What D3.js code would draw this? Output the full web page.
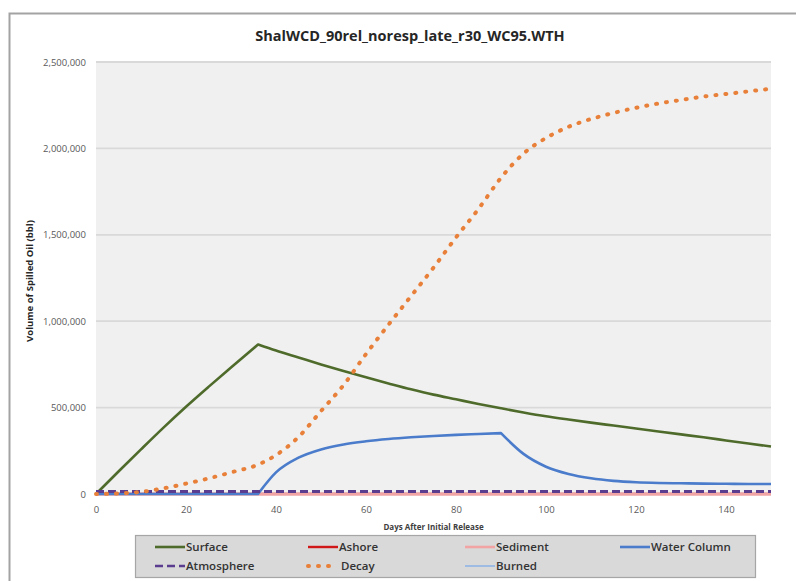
<!DOCTYPE html>
<html>
<head>
<meta charset="utf-8">
<script src="https://cdn.jsdelivr.net/npm/d3@7"></script>
<style>
  html, body { margin: 0; padding: 0; background: #ffffff; }
  svg { display: block; font-family: "Open Sans", "Liberation Sans", sans-serif; }
</style>
</head>
<body>
<svg id="chart" width="796" height="581"></svg>
<script>
// Simulation output: days after release and oil volume (bbl) by compartment
const days = [0, 5, 10, 15, 20, 25, 30, 36, 40, 45, 50, 55, 60, 65, 70, 75, 80, 85, 90,
              95, 100, 105, 110, 115, 120, 125, 130, 135, 140, 145, 150];

const surface = [0, 130000, 258000, 384000, 505000, 620000, 732000, 865000, 830000, 790000,
                 750000, 712000, 675000, 640000, 606000, 575000, 548000, 521000, 496000,
                 472000, 450000, 431000, 413000, 396000, 379000, 362000, 345000, 328000,
                 310000, 292000, 275000];

const ashore = days.map(() => 0);
const sediment = days.map(() => 0);

const waterColumn = [0, 0, 0, 0, 0, 0, 0, 0, 125000, 210000, 258000, 287000, 305000, 318000,
                     328000, 336000, 342000, 347000, 352000, 232000, 158000, 116000, 91000,
                     76000, 68000, 64000, 62000, 60000, 59000, 58000, 58000];

const atmosphere = days.map(() => 15000);

const decay = [0, 3000, 12000, 33000, 60000, 90000, 125000, 170000, 225000, 330000, 480000,
               630000, 810000, 980000, 1145000, 1310000, 1485000, 1650000, 1830000, 1970000,
               2060000, 2125000, 2170000, 2205000, 2235000, 2260000, 2280000, 2300000,
               2315000, 2330000, 2345000];

const burned = days.map(() => 0);

const xTicks = [0, 20, 40, 60, 80, 100, 120, 140];
const yTicks = [0, 500000, 1000000, 1500000, 2000000, 2500000];

const titleText = "ShalWCD_90rel_noresp_late_r30_WC95.WTH";
const xTitle = "Days After Initial Release";
const yTitle = "Volume of Spilled Oil (bbl)";

// Days where a series changes regime (drawn as a sharp corner)
const surfaceBreaks = [36];
const waterColumnBreaks = [36, 90];

// Series styling, in drawing order
const series = [
  { name: "Surface",      values: surface,     breaks: surfaceBreaks, color: "#4f6b2b", width: 2.6, dash: null },
  { name: "Burned",       values: burned,      breaks: [], color: "#9dbbe3", width: 2,   dash: null },
  { name: "Ashore",       values: ashore,      breaks: [], color: "#d01818", width: 2.4, dash: null },
  { name: "Sediment",     values: sediment,    breaks: [], color: "#f2a3a3", width: 2.6, dash: null },
  { name: "Water Column", values: waterColumn, breaks: waterColumnBreaks, color: "#4a7ccb", width: 2.6, dash: null },
  { name: "Atmosphere",   values: atmosphere,  breaks: [], color: "#5a3d8e", width: 3,   dash: "8,4" },
  { name: "Decay",        values: decay,       breaks: [], color: "#e8803a", width: 4,   dash: "1,9", cap: "round" }
];
const byName = Object.fromEntries(series.map(s => [s.name, s]));

const svg = d3.select("#chart");

// Outer chart frame
svg.append("rect")
  .attr("x", 9.5).attr("y", 13.5)
  .attr("width", 820).attr("height", 600)
  .attr("fill", "#ffffff")
  .attr("stroke", "#a3a3a3").attr("stroke-width", 2);

const plot = { left: 96, right: 771, top: 62, bottom: 494 };

const x = d3.scaleLinear().domain([0, 150]).range([plot.left, plot.right]);
const y = d3.scaleLinear().domain([0, 2500000]).range([plot.bottom, plot.top]);

// Plot area
svg.append("rect")
  .attr("x", plot.left).attr("y", plot.top)
  .attr("width", plot.right - plot.left).attr("height", plot.bottom - plot.top)
  .attr("fill", "#f0f0f0");

// Horizontal gridlines
svg.append("g")
  .selectAll("line")
  .data(yTicks)
  .join("line")
  .attr("x1", plot.left).attr("x2", plot.right)
  .attr("y1", d => y(d)).attr("y2", d => y(d))
  .attr("stroke", "#d9d9d9").attr("stroke-width", 1.8);

// Axes (labels only; lines hidden)
const fmt = d3.format(",");
const yAxis = svg.append("g")
  .attr("transform", `translate(${plot.left},0)`)
  .call(d3.axisLeft(y).tickValues(yTicks).tickFormat(fmt).tickSize(0).tickPadding(10));
const xAxis = svg.append("g")
  .attr("transform", `translate(0,${plot.bottom})`)
  .call(d3.axisBottom(x).tickValues(xTicks).tickFormat(d3.format("d")).tickSize(0).tickPadding(12));
[yAxis, xAxis].forEach(g => {
  g.select(".domain").remove();
  g.selectAll("text")
    .attr("fill", "#595959")
    .style("font-size", "9.5px")
    .style("font-family", "'Open Sans', sans-serif");
});

// Series lines: smooth within each regime, sharp corners at regime changes
const line = d3.line()
  .x(d => x(d[0]))
  .y(d => y(d[1]))
  .curve(d3.curveMonotoneX);

function seriesPath(s) {
  const pts = days.map((d, i) => [d, s.values[i]]);
  const cuts = [0, ...s.breaks.map(b => days.indexOf(b)), pts.length - 1];
  const parts = [];
  for (let k = 0; k < cuts.length - 1; k++) {
    const seg = pts.slice(cuts[k], cuts[k + 1] + 1);
    let d = line(seg);
    if (k > 0) d = d.replace(/^M[^CL]*/, "");
    parts.push(d);
  }
  return parts.join("");
}

svg.append("g")
  .selectAll("path")
  .data(series)
  .join("path")
  .attr("d", seriesPath)
  .attr("fill", "none")
  .attr("stroke", s => s.color)
  .attr("stroke-width", s => s.width)
  .attr("stroke-dasharray", s => s.dash)
  .attr("stroke-linecap", s => s.cap || "butt")
  .attr("stroke-linejoin", "round");

// Title
svg.append("text")
  .attr("x", 410).attr("y", 41)
  .attr("text-anchor", "middle")
  .attr("fill", "#262626")
  .style("font-size", "14.5px").style("font-weight", "bold")
  .style("font-family", "'Open Sans', sans-serif")
  .text(titleText);

// Axis titles
svg.append("text")
  .attr("x", plot.left + (plot.right - plot.left) / 2).attr("y", 530)
  .attr("text-anchor", "middle")
  .attr("fill", "#404040")
  .style("font-size", "8px").style("font-weight", "bold")
  .text(xTitle);

svg.append("text")
  .attr("transform", "translate(33,281) rotate(-90)")
  .attr("text-anchor", "middle")
  .attr("fill", "#262626")
  .style("font-size", "9.5px").style("font-weight", "bold")
  .text(yTitle);

// Legend
const legend = svg.append("g");
legend.append("rect")
  .attr("x", 135.5).attr("y", 535.5)
  .attr("width", 620).attr("height", 42)
  .attr("fill", "#d9d9d9")
  .attr("stroke", "#a6a6a6").attr("stroke-width", 1.2);

const legendItems = [
  { name: "Surface",      col: 0, row: 0 },
  { name: "Ashore",       col: 1, row: 0 },
  { name: "Sediment",     col: 2, row: 0 },
  { name: "Water Column", col: 3, row: 0 },
  { name: "Atmosphere",   col: 0, row: 1 },
  { name: "Decay",        col: 1, row: 1 },
  { name: "Burned",       col: 2, row: 1 }
];
const colX = [155, 308, 465, 620];
const rowY = [547, 566];

const item = legend.selectAll("g.item")
  .data(legendItems)
  .join("g")
  .attr("class", "item")
  .attr("transform", d => `translate(${colX[d.col]},${rowY[d.row]})`);

item.append("line")
  .attr("x1", 0).attr("x2", d => d.name === "Decay" ? 22 : 30)
  .attr("y1", 0).attr("y2", 0)
  .attr("stroke", d => byName[d.name].color)
  .attr("stroke-width", d => d.name === "Decay" ? 4 : Math.min(byName[d.name].width, 2.6))
  .attr("stroke-dasharray", d => byName[d.name].dash)
  .attr("stroke-linecap", d => byName[d.name].cap || "butt");

item.append("text")
  .attr("x", d => d.name === "Decay" ? 33 : 31)
  .attr("y", 4)
  .attr("fill", "#333333")
  .style("font-size", "11.5px")
  .style("font-weight", "600")
  .text(d => d.name);
</script>
</body>
</html>
